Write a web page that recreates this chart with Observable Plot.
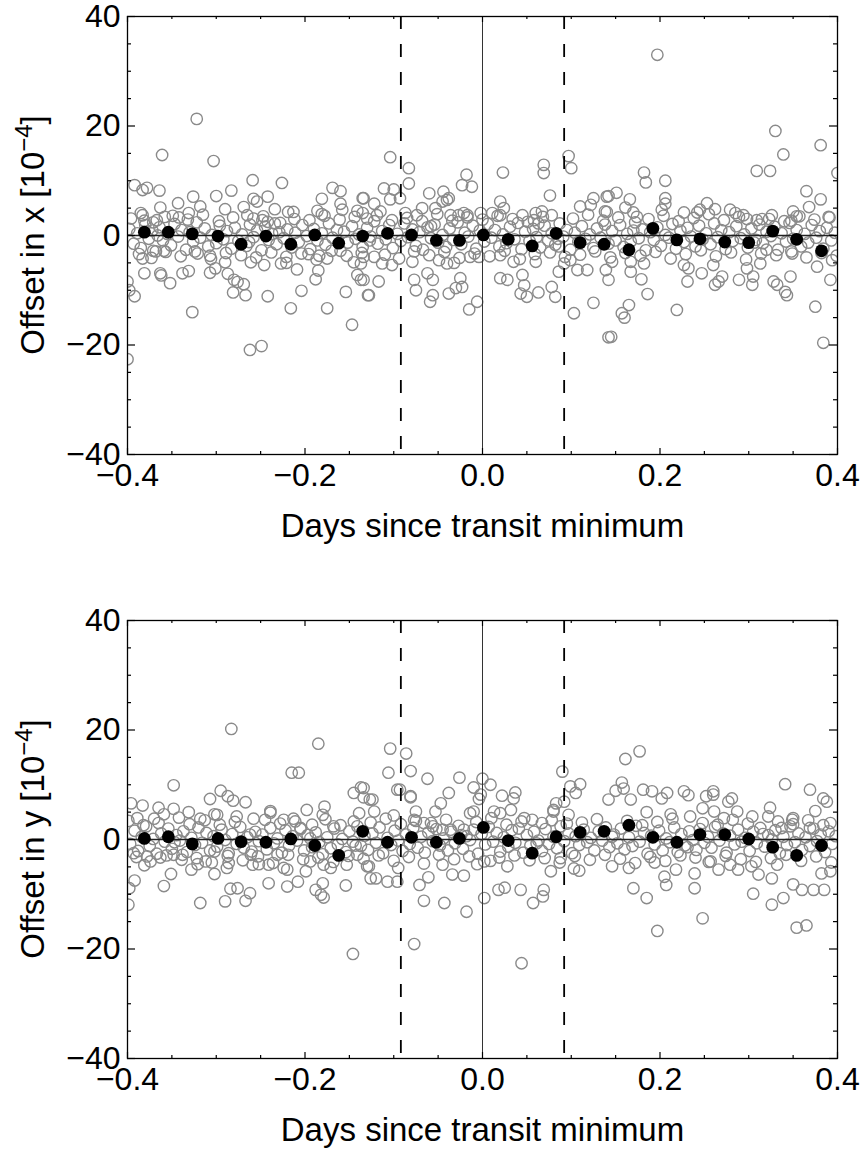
<!DOCTYPE html>
<html><head><meta charset="utf-8">
<script src="https://cdn.jsdelivr.net/npm/d3@7"></script>
<script src="https://cdn.jsdelivr.net/npm/@observablehq/plot@0.6"></script>
<style>body{margin:0;background:#fff}#chart svg{display:block}</style>
</head><body><div id="chart"></div>
<script>
// ---------- axes / reference lines ----------
const xMajor = [-0.4, -0.2, 0, 0.2, 0.4];
const xMinor = [-0.35, -0.3, -0.25, -0.15, -0.1, -0.05, 0.05, 0.1, 0.15, 0.25, 0.3, 0.35];
const yMajor = [-40, -20, 0, 20, 40];
const yMinor = [-35, -30, -25, -15, -10, -5, 5, 10, 15, 25, 30, 35];
const zeroLine = [0];
const transitEdges = [-0.092, 0.092];
const xTitle = "Days since transit minimum";
const yVars = ["x", "y"];

// ---------- binned means (black dots) ----------
const binX = [-0.381,-0.354,-0.327,-0.298,-0.272,-0.244,-0.216,-0.189,-0.162,-0.135,-0.107,-0.080,-0.052,-0.026,0.001,0.029,0.056,0.083,0.110,0.137,0.165,0.192,0.219,0.245,0.273,0.300,0.327,0.354,0.382];
const binTopY = [0.6,0.6,0.3,-0.1,-1.6,-0.1,-1.6,0.1,-1.4,-0.1,0.4,0.1,-0.9,-0.9,0.1,-0.7,-1.9,0.4,-1.3,-1.6,-2.6,1.3,-0.8,-0.6,-1.2,-1.3,0.8,-0.7,-2.8];
const binBottomY = [0.2,0.5,-0.8,0.2,-0.4,-0.5,0.1,-1.1,-2.9,1.5,-0.5,0.4,-0.5,0.2,2.2,-0.2,-2.5,0.5,1.3,1.5,2.6,0.4,-0.5,0.9,0.9,0.1,-1.4,-2.9,-1.1];

// ---------- individual measurements, top panel (x offset) ----------
const topScatter = [
[-0.322,21.3],[-0.361,14.7],[-0.303,13.6],[-0.259,10.1],[-0.226,9.6],[-0.392,9.2],[-0.383,8.3],[-0.378,8.7],[-0.364,8.2],[-0.326,7.1],[-0.300,7.2],[-0.283,8.2],[-0.242,7.1],[-0.258,6.7],[-0.254,6.2],[-0.169,8.7],[-0.160,8.1],[-0.181,6.7],[-0.135,6.8],[-0.343,5.9],[-0.318,5.3],[-0.363,5.1],[-0.385,4.1],[-0.383,3.7],[-0.290,4.8],[-0.269,5.2],[-0.234,4.8],[-0.219,4.3],[-0.213,4.3],[-0.160,5.8],[-0.158,4.7],[-0.186,4.5],[-0.181,3.9],[-0.141,4.5],[-0.130,3.1],[-0.331,4.1],[-0.342,3.3],[-0.367,2.8],[-0.371,2.4],[-0.358,3.4],[-0.265,3.7],[-0.258,3.1],[-0.248,2.8],[-0.242,2.5],[-0.234,2.2],
[-0.383,-4.2],[-0.371,-2.8],[-0.359,-2.8],[-0.321,-3.3],[-0.307,-3.7],[-0.290,-4.9],[-0.261,-4.9],[-0.246,-5.4],[-0.221,-5.0],[-0.227,-5.1],[-0.209,-6.2],[-0.196,-3.4],[-0.184,-3.7],[-0.175,-4.2],[-0.145,-4.9],[-0.137,-5.1],[-0.141,-7.2],[-0.137,-8.1],[-0.381,-6.9],[-0.363,-6.9],[-0.362,-7.3],[-0.352,-8.7],[-0.338,-6.9],[-0.331,-6.5],[-0.307,-6.8],[-0.301,-6.0],[-0.287,-7.0],[-0.280,-8.1],[-0.276,-8.5],[-0.269,-8.9],[-0.281,-10.4],[-0.267,-10.9],[-0.242,-11.1],[-0.204,-10.1],[-0.216,-13.3],[-0.175,-13.3],[-0.188,-8.0],[-0.185,-6.4],[-0.154,-10.3],[-0.147,-16.3],[-0.129,-10.9],[-0.392,-11.1],[-0.398,-10.0],[-0.400,-8.4],[-0.327,-14.0],[-0.262,-20.9],[-0.249,-20.2],[-0.400,-22.6],
[-0.104,14.3],[-0.083,12.3],[-0.083,9.5],[-0.111,8.6],[-0.100,8.4],[-0.104,6.6],[-0.093,6.8],[-0.060,7.7],[-0.044,8.0],[-0.038,6.8],[-0.045,6.2],[-0.040,6.5],[-0.018,11.1],[-0.023,9.2],[-0.012,8.9],[0.023,11.5],[0.069,12.9],[0.069,11.4],[0.076,7.3],[0.097,14.5],[0.100,12.3],[-0.134,6.8],[-0.122,5.8],[-0.135,4.1],[-0.115,4.4],[-0.087,4.1],[-0.074,3.7],[-0.068,5.0],[-0.053,5.0],[-0.058,1.7],[-0.036,3.7],[-0.027,3.7],[-0.021,4.1],[-0.017,3.7],[-0.002,4.1],[0.011,4.1],[0.020,6.2],[0.024,5.0],[0.020,3.7],[0.045,3.7],[0.060,4.1],[0.067,4.4],[0.078,3.7],[0.058,2.8],[0.063,2.2],[0.110,5.3],[0.122,5.6],[0.125,6.8],[0.140,7.1],[0.138,4.4],
[-0.134,-3.9],[-0.122,-3.9],[-0.113,-5.1],[-0.102,-5.4],[-0.117,-8.4],[-0.128,-10.9],[-0.134,-8.1],[-0.079,-4.8],[-0.077,-8.1],[-0.075,-10.0],[-0.062,-6.9],[-0.056,-8.1],[-0.059,-12.1],[-0.056,-10.9],[-0.049,-4.5],[-0.040,-5.1],[-0.032,-5.0],[-0.038,-10.6],[-0.030,-9.6],[-0.023,-9.4],[-0.025,-7.8],[-0.014,-3.9],[-0.004,-3.9],[-0.006,-12.1],[-0.015,-13.5],[0.020,-3.6],[0.020,-7.8],[0.028,-8.1],[0.035,-4.8],[0.045,-7.2],[0.047,-9.1],[0.043,-10.6],[0.050,-11.2],[0.063,-10.4],[0.078,-9.4],[0.082,-11.2],[0.060,-4.8],[0.086,-6.6],[0.103,-14.2],[0.125,-12.3],[0.142,-18.6],[0.086,-2.0],[0.092,-5.1],[0.099,-4.5],[0.107,-6.3],[0.118,-6.3],
[0.197,33.0],[0.330,19.1],[0.339,14.8],[0.381,16.5],[0.309,11.8],[0.324,11.8],[0.400,11.4],[0.182,11.5],[0.184,9.7],[0.206,10.0],[0.206,6.8],[0.206,5.8],[0.202,4.7],[0.142,7.2],[0.151,7.8],[0.166,6.6],[0.161,5.1],[0.170,4.2],[0.174,3.4],[0.140,4.3],[0.365,8.1],[0.368,5.2],[0.381,6.6],[0.390,3.4],[0.227,4.2],[0.242,4.2],[0.245,4.7],[0.253,5.9],[0.262,4.8],[0.279,4.7],[0.285,4.1],[0.294,3.7],[0.298,3.0],[0.309,2.8],[0.315,3.0],[0.326,3.7],[0.350,4.4],[0.354,3.5],[0.348,2.7],
[0.146,-4.8],[0.139,-6.3],[0.142,-8.1],[0.167,-4.8],[0.167,-6.6],[0.182,-5.1],[0.179,-8.0],[0.186,-10.7],[0.165,-12.7],[0.157,-14.2],[0.160,-15.0],[0.145,-18.5],[0.219,-13.6],
[0.227,-5.4],[0.231,-8.4],[0.232,-6.0],[0.247,-6.9],[0.262,-9.0],[0.266,-8.4],[0.270,-7.5],[0.260,-5.4],[0.289,-8.1],[0.304,-9.0],[0.305,-7.5],[0.298,-6.0],[0.313,-5.1],[0.320,-2.6],[0.328,-8.4],[0.332,-9.0],[0.343,-10.9],[0.341,-10.3],[0.347,-7.5],[0.349,-3.3],[0.375,-13.0],[0.384,-19.6],[0.377,-5.7],[0.392,-8.1],[0.394,-4.5]
];
const topBand = [
[-0.398,1.2],[-0.393,-1.5],[-0.389,0.4],[-0.385,-2.3],[-0.380,1.9],[-0.376,-0.6],[-0.372,0.9],[-0.368,-2.9],[-0.364,1.5],[-0.360,-0.9],[-0.355,0.3],[-0.351,-1.8],[-0.347,2.1],[-0.343,-0.2],[-0.339,1.0],[-0.334,-2.6],[-0.330,0.6],[-0.326,-1.1],[-0.322,2.4],[-0.318,-0.4],[-0.313,1.3],[-0.309,-2.0],[-0.305,0.1],[-0.300,-1.4],[-0.296,1.8],[-0.292,-0.7],[-0.288,0.8],[-0.283,-2.4],[-0.279,1.4],[-0.275,-1.0],[-0.271,0.2],[-0.266,-1.9],[-0.262,2.0],[-0.258,-0.3],[-0.254,0.9],[-0.249,-2.7],[-0.245,1.6],[-0.241,-0.8],[-0.237,0.3],[-0.232,-1.6],[-0.228,2.3],[-0.224,-0.5],[-0.220,1.1],[-0.215,-2.2],[-0.211,0.5],[-0.207,-1.2],[-0.203,1.9],[-0.198,-0.1],[-0.194,-2.5],[-0.190,1.2],[-0.186,-0.9],[-0.181,0.4],[-0.177,-1.7],[-0.173,2.2],[-0.169,-0.4],[-0.164,1.0],[-0.160,-2.8],[-0.156,0.7],[-0.152,-1.3],[-0.147,1.7],[-0.143,-0.6],[-0.139,0.2],[-0.135,-2.1],[-0.130,1.4],[-0.126,-0.2],[-0.122,2.6],[-0.118,-1.5],[-0.113,0.8],[-0.109,-0.7],[-0.105,1.9],[-0.101,-2.3],[-0.096,0.3],[-0.092,-1.0],[-0.088,2.2],[-0.084,-0.3],[-0.079,1.1],[-0.075,-1.9],[-0.071,0.6],[-0.067,-2.6],[-0.062,1.5],[-0.058,-0.5],[-0.054,2.0],[-0.050,-1.3],[-0.045,0.1],[-0.041,-2.1],[-0.037,1.3],[-0.033,-0.8],[-0.028,2.4],[-0.024,-1.6],[-0.020,0.5],[-0.016,-0.2],[-0.011,1.8],[-0.007,-2.4],[-0.003,0.9],[0.002,-1.1],[0.006,2.1],[0.010,-0.4],[0.014,1.0],[0.019,-2.0],[0.023,0.2],[0.027,-1.4],[0.031,1.6],[0.036,-0.7],[0.040,2.3],[0.044,-2.5],[0.048,0.7],[0.053,-1.0],[0.057,1.2],[0.061,-0.3],[0.065,-2.2],[0.070,1.8],[0.074,-0.9],[0.078,0.4],[0.082,-1.7],[0.087,2.2],[0.091,-0.2],[0.095,1.0],[0.099,-2.6],[0.104,0.5],[0.108,-1.2],[0.112,1.7],[0.116,-0.6],[0.121,0.2],[0.125,-2.3],[0.129,1.3],[0.133,-0.4],[0.138,2.0],[0.142,-1.5],[0.146,0.8],[0.150,-0.9],[0.155,1.9],[0.159,-2.1],[0.163,0.3],[0.167,-1.1],[0.172,2.4],[0.176,-0.5],[0.180,1.1],[0.184,-2.7],[0.189,0.6],[0.193,-0.8],[0.197,1.5],[0.201,-1.9],[0.206,0.1],[0.210,-0.4],[0.214,2.1],[0.218,-2.4],[0.223,0.9],[0.227,-1.2],[0.231,1.4],[0.235,-0.2],[0.240,-2.0],[0.244,1.8],[0.248,-0.7],[0.252,0.4],[0.257,-1.6],[0.261,2.2],[0.265,-0.3],[0.269,1.0],[0.274,-2.5],[0.278,0.6],[0.282,-1.0],[0.286,1.7],[0.291,-0.5],[0.295,0.2],[0.299,-2.2],[0.303,1.3],[0.308,-0.8],[0.312,2.0],[0.316,-1.4],[0.320,0.7],[0.325,-0.1],[0.329,1.6],[0.333,-2.6],[0.337,0.4],[0.342,-1.1],[0.346,2.3],[0.350,-0.6],[0.354,1.0],[0.359,-2.0],[0.363,0.3],[0.367,-1.3],[0.371,1.9],[0.376,-0.4],[0.380,0.8],[0.384,-2.4],[0.388,1.4],[0.393,-0.9],[0.397,0.5]
];
const topBandWide = [
[-0.396,3.1],[-0.387,-3.4],[-0.381,2.7],[-0.373,-4.1],[-0.366,0.0],[-0.357,-3.0],[-0.349,3.6],[-0.340,-3.8],[-0.332,2.9],[-0.324,-2.9],[-0.315,3.8],[-0.306,-4.3],[-0.297,2.6],[-0.289,-3.2],[-0.281,3.3],[-0.272,-3.6],[-0.263,-1.2],[-0.255,-4.0],[-0.247,3.5],[-0.238,-3.1],[-0.229,0.6],[-0.221,-3.9],[-0.212,3.0],[-0.204,-3.3],[-0.195,2.8],[-0.187,-4.4],[-0.178,3.6],[-0.170,-2.8],[-0.161,2.9],[-0.153,-3.7],[-0.144,3.4],[-0.136,-3.2],[-0.127,-0.9],[-0.119,3.7],[-0.110,-3.5],[-0.102,2.8],[-0.094,-4.2],[-0.085,3.2],[-0.077,-2.9],[-0.068,2.6],[-0.060,-3.6],[-0.051,3.9],[-0.043,-3.0],[-0.034,2.7],[-0.026,-4.1],[-0.017,3.3],[-0.009,-3.3],[0.000,2.9],[0.008,-3.8],[0.017,3.6],[0.025,-2.8],[0.034,3.0],[0.042,-4.3],[0.051,2.5],[0.059,-3.4],[0.068,3.4],[0.076,-3.1],[0.085,-0.6],[0.093,-3.9],[0.102,3.1],[0.110,-3.5],[0.119,3.8],[0.127,-2.9],[0.136,2.7],[0.144,-4.0],[0.153,3.3],[0.161,-3.2],[0.170,0.9],[0.178,-3.7],[0.187,3.0],[0.195,-3.0],[0.204,3.6],[0.212,-4.2],[0.221,2.6],[0.229,-3.4],[0.238,3.2],[0.246,-2.7],[0.255,3.9],[0.263,-3.8],[0.272,2.8],[0.280,-3.1],[0.289,3.4],[0.297,-4.4],[0.306,-1.3],[0.314,-3.3],[0.323,3.0],[0.331,-3.6],[0.340,2.6],[0.348,-2.9],[0.357,3.5],[0.365,-4.0],[0.374,2.9],[0.382,-3.2],[0.391,3.3],[0.399,-3.7]
];

// ---------- individual measurements, bottom panel (y offset) ----------
const bottomScatter = [
[-0.283,20.2],[-0.185,17.5],[-0.215,12.2],[-0.207,12.2],[-0.348,9.9],[-0.295,8.9],[-0.287,7.9],[-0.281,7.1],[-0.307,7.4],[-0.267,6.8],[-0.145,8.5],[-0.137,9.5],[-0.134,7.7],[-0.127,7.3],[-0.396,6.6],[-0.383,6.2],[-0.365,5.8],[-0.348,5.6],[-0.359,4.6],[-0.239,5.2],[-0.239,4.9],[-0.198,5.4],[-0.178,6.0],[-0.180,4.5],
[-0.389,3.9],[-0.370,3.8],[-0.342,4.0],[-0.331,5.0],[-0.318,3.8],[-0.302,4.6],[-0.299,4.5],[-0.277,4.2],[-0.258,3.8],[-0.224,3.6],[-0.213,3.8],[-0.192,2.7],[-0.205,2.1],[-0.168,2.4],[-0.145,3.3],[-0.139,4.8],
[-0.381,-4.7],[-0.359,-8.5],[-0.392,-7.5],[-0.398,-8.9],[-0.399,-11.9],[-0.351,-6.3],[-0.328,-5.5],[-0.318,-11.6],[-0.302,-6.3],[-0.290,-11.3],[-0.284,-9.0],[-0.276,-8.9],[-0.267,-11.2],[-0.262,-9.8],[-0.241,-8.0],[-0.220,-8.6],[-0.208,-7.7],[-0.188,-9.2],[-0.182,-10.1],[-0.179,-10.6],[-0.180,-8.0],[-0.154,-8.4],[-0.146,-20.9],[-0.130,-4.9],[-0.126,-7.1],
[-0.393,-2.5],[-0.378,-3.1],[-0.363,-3.3],[-0.348,-2.8],[-0.338,-2.8],[-0.321,-4.5],[-0.312,-4.0],[-0.302,-2.2],[-0.288,-5.2],[-0.286,-4.3],[-0.261,-2.8],[-0.259,-4.6],[-0.252,-4.5],[-0.241,-4.6],[-0.231,-2.8],[-0.224,-5.2],[-0.220,-5.5],[-0.199,-5.8],[-0.194,-4.0],[-0.179,-4.6],[-0.171,-5.2],[-0.153,-4.6],[-0.141,-2.8],[-0.128,-4.9],
[-0.104,16.6],[-0.086,15.7],[-0.106,12.2],[-0.081,12.5],[-0.062,11.1],[-0.026,11.3],[-0.096,9.1],[-0.093,9.1],[-0.081,7.9],[-0.081,7.7],[-0.010,9.5],[0.000,11.1],[0.009,10.0],[-0.002,8.2],[-0.004,7.4],[0.022,8.0],[0.037,8.6],[0.035,7.5],[0.090,12.4],[0.099,9.7],[0.110,10.1],[0.105,8.5],[0.083,6.6],[0.080,5.4],[0.097,4.5],
[-0.134,9.4],[-0.124,7.3],[-0.122,5.1],[-0.100,4.4],[-0.075,5.1],[-0.077,3.6],[-0.053,5.1],[-0.047,6.6],[-0.038,8.5],[-0.066,3.0],[-0.056,2.4],[-0.045,1.8],[-0.036,1.8],[-0.021,1.8],
[-0.014,4.8],[-0.010,5.1],[0.013,5.1],[0.020,4.8],[0.032,5.4],[0.047,3.9],[0.056,3.6],[0.067,3.0],[0.080,5.1],[0.092,6.9],
[-0.120,-7.1],[-0.107,-7.7],[-0.096,-7.7],[-0.095,-5.2],[-0.071,-8.3],[-0.066,-11.2],[-0.061,-6.9],[-0.043,-11.6],[-0.018,-13.2],[-0.077,-19.1],[-0.034,-6.4],[-0.021,-6.6],[-0.045,-4.6],[-0.006,-4.5],[0.009,-3.9],[0.002,-10.7],[0.018,-9.2],[0.025,-8.8],[0.028,-4.9],[0.043,-9.2],[0.044,-22.6],[0.057,-11.6],[0.069,-9.2],[0.068,-10.4],[0.077,-5.8],[0.088,-3.4],[0.103,-5.3],[0.109,-5.7],
[0.161,14.7],[0.177,16.1],[0.341,10.1],[0.369,9.1],
[0.157,10.4],[0.150,8.9],[0.142,7.3],[0.159,9.3],[0.167,7.3],[0.181,9.1],[0.191,8.8],[0.202,7.5],[0.208,8.5],[0.227,8.8],[0.232,8.1],[0.252,7.9],[0.260,8.8],[0.260,8.2],[0.277,6.9],[0.281,7.5],[0.324,5.8],[0.349,3.6],[0.384,7.5],[0.388,6.9],
[0.185,5.0],[0.212,4.6],[0.234,4.2],[0.248,5.7],[0.261,5.1],[0.272,3.9],[0.287,5.1],[0.304,4.2],[0.322,4.2],[0.337,2.1],[0.350,3.9],[0.369,2.1],[0.375,5.2],[0.392,3.0],
[0.146,-4.9],[0.165,-5.2],[0.170,-8.9],[0.185,-10.7],[0.194,-4.2],[0.205,-6.8],[0.207,-8.3],[0.218,-5.5],[0.239,-6.2],[0.239,-8.9],[0.248,-14.4],[0.197,-16.7],[0.255,-4.1],[0.266,-5.5],[0.279,-4.6],[0.288,-5.5],[0.303,-4.9],[0.305,-9.9],[0.311,-6.4],[0.326,-7.1],[0.326,-11.9],[0.332,-4.6],[0.339,-10.7],[0.350,-8.2],[0.354,-16.1],[0.365,-15.7],[0.360,-9.2],[0.373,-9.2],[0.382,-6.2],[0.392,-5.8],[0.385,-9.2]
];
const bottomBand = [
[-0.397,-0.8],[-0.392,1.6],[-0.388,-2.1],[-0.384,0.5],[-0.379,2.4],[-0.375,-1.2],[-0.371,0.1],[-0.367,-2.6],[-0.362,1.1],[-0.358,-0.4],[-0.354,2.0],[-0.350,-1.7],[-0.345,0.8],[-0.341,-0.2],[-0.337,1.5],[-0.333,-2.3],[-0.328,0.3],[-0.324,-1.0],[-0.320,2.2],[-0.316,-0.6],[-0.311,1.2],[-0.307,-2.0],[-0.303,0.6],[-0.299,-1.3],[-0.294,1.8],[-0.290,-0.1],[-0.286,-2.5],[-0.282,1.0],[-0.277,-0.8],[-0.273,2.3],[-0.269,-1.5],[-0.265,0.4],[-0.260,-2.2],[-0.256,1.4],[-0.252,-0.3],[-0.248,0.9],[-0.243,-1.8],[-0.239,2.1],[-0.235,-0.7],[-0.231,0.2],[-0.226,-2.4],[-0.222,1.7],[-0.218,-1.1],[-0.214,0.6],[-0.209,-0.2],[-0.205,1.9],[-0.201,-2.0],[-0.197,0.8],[-0.192,-1.4],[-0.188,1.3],[-0.184,-0.5],[-0.180,-2.7],[-0.175,0.4],[-0.171,-1.6],[-0.167,2.0],[-0.163,-0.9],[-0.158,0.1],[-0.154,-2.3],[-0.150,1.5],[-0.146,-0.4],[-0.141,2.4],[-0.137,-1.2],[-0.133,0.7],[-0.129,-1.9],[-0.124,1.1],[-0.120,-0.6],[-0.116,2.2],[-0.112,-2.5],[-0.107,0.3],[-0.103,-1.0],[-0.099,1.6],[-0.095,-0.2],[-0.090,-2.1],[-0.086,0.9],[-0.082,-0.8],[-0.078,2.1],[-0.073,-1.5],[-0.069,0.5],[-0.065,-2.4],[-0.061,1.3],[-0.056,-0.3],[-0.052,1.9],[-0.048,-1.1],[-0.044,0.2],[-0.039,-2.0],[-0.035,1.4],[-0.031,-0.7],[-0.027,2.5],[-0.022,-1.7],[-0.018,0.6],[-0.014,-0.1],[-0.010,1.8],[-0.005,-2.6],[-0.001,1.0],[0.003,-0.9],[0.007,2.3],[0.012,-0.4],[0.016,1.2],[0.020,-2.2],[0.024,0.4],[0.029,-1.3],[0.033,1.7],[0.037,-0.6],[0.041,2.0],[0.046,-2.4],[0.050,0.8],[0.054,-1.1],[0.058,1.4],[0.063,-0.2],[0.067,-2.1],[0.071,1.9],[0.075,-0.8],[0.080,0.5],[0.084,-1.6],[0.088,2.4],[0.092,-0.3],[0.097,1.1],[0.101,-2.5],[0.105,0.6],[0.109,-1.0],[0.114,1.8],[0.118,-0.5],[0.122,0.3],[0.126,-2.0],[0.131,1.5],[0.135,-0.2],[0.139,2.2],[0.143,-1.4],[0.148,0.9],[0.152,-0.7],[0.156,2.0],[0.160,-1.8],[0.165,0.4],[0.169,-1.2],[0.173,2.5],[0.177,-0.4],[0.182,1.2],[0.186,-2.6],[0.190,0.7],[0.194,-0.9],[0.199,1.6],[0.203,-2.0],[0.207,0.2],[0.211,-0.5],[0.216,2.2],[0.220,-2.3],[0.224,1.0],[0.228,-1.1],[0.233,1.5],[0.237,-0.1],[0.241,-1.9],[0.245,1.9],[0.250,-0.6],[0.254,0.5],[0.258,-1.5],[0.262,2.3],[0.267,-0.2],[0.271,1.1],[0.275,-2.4],[0.279,0.7],[0.284,-0.9],[0.288,1.8],[0.292,-0.4],[0.296,0.3],[0.301,-2.1],[0.305,1.4],[0.309,-0.7],[0.313,2.1],[0.318,-1.3],[0.322,0.8],[0.326,0.0],[0.330,1.7],[0.335,-2.5],[0.339,0.5],[0.343,-1.0],[0.347,2.4],[0.352,-0.5],[0.356,1.1],[0.360,-1.9],[0.364,0.4],[0.369,-1.2],[0.373,2.0],[0.377,-0.3],[0.381,0.9],[0.386,-2.3],[0.390,1.5],[0.394,-0.8],[0.398,0.6]
];
const bottomBandWide = [
[-0.399,3.4],[-0.390,-3.2],[-0.382,2.6],[-0.374,-4.0],[-0.365,3.0],[-0.356,-2.9],[-0.347,-0.5],[-0.339,-3.7],[-0.330,2.8],[-0.322,-3.4],[-0.313,3.5],[-0.305,-4.2],[-0.296,2.7],[-0.287,-3.0],[-0.279,3.2],[-0.270,-3.8],[-0.262,0.9],[-0.253,-3.1],[-0.245,3.6],[-0.236,-4.3],[-0.228,2.9],[-0.219,-2.8],[-0.211,3.3],[-0.202,-3.6],[-0.194,0.2],[-0.185,-3.3],[-0.177,3.7],[-0.168,-4.1],[-0.160,2.6],[-0.151,-3.0],[-0.143,-1.1],[-0.134,-3.5],[-0.126,3.1],[-0.117,-2.9],[-0.109,3.8],[-0.100,-3.9],[-0.092,2.8],[-0.083,-3.2],[-0.075,3.4],[-0.066,-4.4],[-0.058,3.0],[-0.049,-2.8],[-0.041,3.6],[-0.032,-3.6],[-0.024,0.8],[-0.015,-3.1],[-0.007,3.2],[0.002,-4.0],[0.010,3.9],[0.019,-3.3],[0.027,2.7],[0.036,-2.9],[0.044,3.3],[0.053,-3.8],[0.061,-0.7],[0.070,-3.4],[0.078,3.5],[0.087,-4.2],[0.095,2.9],[0.104,-3.0],[0.112,3.1],[0.121,-3.7],[0.129,3.7],[0.138,-2.8],[0.146,0.5],[0.155,-3.5],[0.163,3.4],[0.172,-4.3],[0.180,2.6],[0.189,-3.2],[0.197,3.2],[0.206,-3.9],[0.214,3.8],[0.223,-2.9],[0.231,-1.4],[0.240,-3.3],[0.248,3.0],[0.257,-4.0],[0.265,2.7],[0.274,-3.0],[0.282,3.6],[0.291,-3.6],[0.299,2.9],[0.308,-4.1],[0.316,1.0],[0.325,-3.4],[0.333,3.3],[0.342,-2.8],[0.350,2.8],[0.359,-3.9],[0.367,3.5],[0.376,-3.1],[0.384,2.6],[0.393,-4.2]
];

// ---------- drawing ----------
const FONT = "'Liberation Sans', Arial, Helvetica, sans-serif";
const PLOT_H = 438, PLOT_W = 710;
const ky = 80 / PLOT_H;   // y units per pixel
const kx = 0.8 / PLOT_W;  // x units per pixel

function panel(scatterSets, binY, yVar, height, marginBottom) {
  const pts = scatterSets.flat().map(([x, y]) => ({x, y}));
  const bins = binX.map((x, i) => ({x, y: binY[i]}));
  const xTickMarks = (vals, lenPx) => [
    Plot.ruleX(vals, {x: d => d, y1: -40, y2: -40 + lenPx * ky, stroke: "#000", strokeWidth: 1.2}),
    Plot.ruleX(vals, {x: d => d, y1: 40, y2: 40 - lenPx * ky, stroke: "#000", strokeWidth: 1.2})
  ];
  const yTickMarks = (vals, lenPx) => [
    Plot.ruleY(vals, {y: d => d, x1: -0.4, x2: -0.4 + lenPx * kx, stroke: "#000", strokeWidth: 1.2}),
    Plot.ruleY(vals, {y: d => d, x1: 0.4, x2: 0.4 - lenPx * kx, stroke: "#000", strokeWidth: 1.2})
  ];
  const svg = Plot.plot({
    width: 862, height,
    marginLeft: 127, marginRight: 25, marginTop: 16, marginBottom,
    style: {fontFamily: FONT, background: "#fff", color: "#000", overflow: "visible"},
    x: {domain: [-0.4, 0.4]},
    y: {domain: [-40, 40]},
    marks: [
      Plot.dot(pts, {x: "x", y: "y", r: 5.7, stroke: "#8a8a8a", strokeWidth: 1.4, fill: "none", clip: true}),
      Plot.ruleY(zeroLine, {stroke: "#222", strokeWidth: 1.5}),
      Plot.ruleX(zeroLine, {stroke: "#333", strokeWidth: 1}),
      Plot.ruleX(transitEdges, {stroke: "#000", strokeWidth: 1.8, strokeDasharray: "13,15"}),
      Plot.dot(bins, {x: "x", y: "y", r: 6.4, fill: "#000", stroke: "none"}),
      ...xTickMarks(xMajor, 6),
      ...xTickMarks(xMinor, 3),
      ...yTickMarks(yMajor, 8),
      ...yTickMarks(yMinor, 4),
      Plot.frame({stroke: "#000", strokeWidth: 1.3}),
      Plot.axisX(xMajor, {tickSize: 0, tickPadding: 9, fontSize: 32, tickFormat: d3.format(".1f"), label: null}),
      Plot.axisY(yMajor, {tickSize: 0, tickPadding: 7, fontSize: 32, tickFormat: d3.format("d"), label: null}),
      Plot.text([xTitle], {text: d => d, frameAnchor: "bottom", dy: 72, fontSize: 33, lineAnchor: "middle", fill: "#000"})
    ]
  });
  const s = d3.select(svg);
  const t = s.append("text")
    .attr("transform", `translate(44,${16 + PLOT_H / 2}) rotate(-90)`)
    .attr("text-anchor", "middle")
    .attr("font-family", FONT)
    .attr("font-size", 33)
    .attr("fill", "#000");
  t.append("tspan").text(`Offset in ${yVar} [10`);
  t.append("tspan").attr("dy", -12).attr("font-size", 24).text("\u22124");
  t.append("tspan").attr("dy", 12).text("]");
  return svg;
}

const chart = document.getElementById("chart");
chart.appendChild(panel([topScatter, topBand, topBandWide], binTopY, yVars[0], 604, 150));
chart.appendChild(panel([bottomScatter, bottomBand, bottomBandWide], binBottomY, yVars[1], 545, 91));
</script>
</body></html>
